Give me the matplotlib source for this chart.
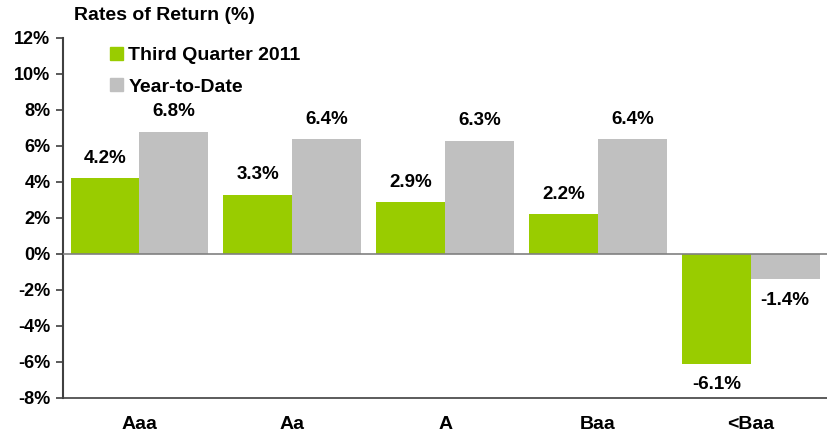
import matplotlib
matplotlib.use("Agg")
import matplotlib.pyplot as plt
import numpy as np
from matplotlib.patches import Patch

categories = ["Aaa", "Aa", "A", "Baa", "<Baa"]
third_quarter = [4.2, 3.3, 2.9, 2.2, -6.1]
year_to_date = [6.8, 6.4, 6.3, 6.4, -1.4]
series_names = ["Third Quarter 2011", "Year-to-Date"]
yticks = [-8, -6, -4, -2, 0, 2, 4, 6, 8, 10, 12]

green = "#99CC00"
gray = "#C0C0C0"

plt.rcParams['font.family'] = ['Liberation Sans', 'DejaVu Sans']
fig = plt.figure(figsize=(8.28, 4.36), dpi=100)
ax = fig.add_axes([63/828, 1-398/436, 1-63/828-0.001, 360/436])

x = np.arange(len(categories))
w = 0.45
b1 = ax.bar(x - w/2, third_quarter, w, color=green, zorder=2)
b2 = ax.bar(x + w/2, year_to_date, w, color=gray, zorder=2)

for bars, vals in ((b1, third_quarter), (b2, year_to_date)):
    for bar, v in zip(bars, vals):
        cx = bar.get_x() + bar.get_width()/2
        if v >= 0:
            ax.annotate(f"{v:.1f}%", (cx, v), xytext=(0, 8), textcoords="offset points",
                        ha="center", va="bottom", fontsize=13.5, fontweight="bold")
        else:
            ax.annotate(f"{v:.1f}%", (cx, v), xytext=(0, -9), textcoords="offset points",
                        ha="center", va="top", fontsize=13.5, fontweight="bold")

ax.set_xlim(-0.5, len(categories) - 0.5)
ax.set_ylim(-8, 12)
ax.set_yticks(yticks)
ax.set_yticklabels([f"{t}%" for t in yticks], fontsize=13, fontweight="bold")
ax.set_xticks(x)
ax.set_xticklabels(categories, fontsize=14, fontweight="bold")
ax.tick_params(axis="x", length=0, pad=13)
ax.tick_params(axis="y", length=5, width=1.2, color="#404040", direction="out", pad=4)
ax.axhline(0, color="#808080", lw=1.2, zorder=3)
for s in ("top", "right"):
    ax.spines[s].set_visible(False)
ax.spines["left"].set_color("#404040")
ax.spines["left"].set_linewidth(1.5)
ax.spines["bottom"].set_color("#404040")
ax.spines["bottom"].set_linewidth(1.2)

handles = [Patch(color=green), Patch(color=gray)]
leg = ax.legend(handles, series_names, loc="upper left", bbox_to_anchor=(110/828, 1-47/436),
                bbox_transform=fig.transFigure, frameon=False, handlelength=0.65, handleheight=0.65,
                handletextpad=0.3, labelspacing=0.72, borderpad=0, borderaxespad=0,
                prop={"weight": "bold", "size": 14})

fig.text(74/828, 1-15/436, "Rates of Return (%)", fontsize=14, fontweight="bold",
         ha="left", va="center")

fig.savefig("out.png", dpi=100)
